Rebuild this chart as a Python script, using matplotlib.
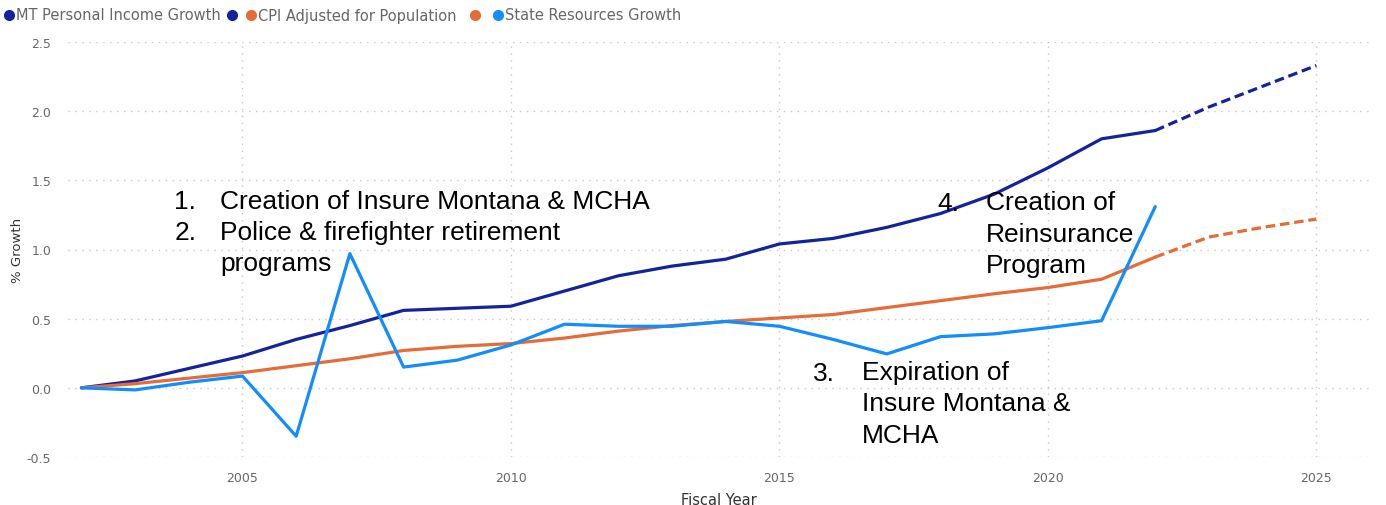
import matplotlib.pyplot as plt
from matplotlib.lines import Line2D

# data
years = list(range(2002, 2023))
proj_years = [2022, 2023, 2024, 2025]

income = [0.0, 0.05, 0.14, 0.23, 0.35, 0.45, 0.56, 0.575, 0.59, 0.70, 0.81,
          0.88, 0.93, 1.04, 1.08, 1.16, 1.26, 1.40, 1.59, 1.80, 1.86]
income_proj = [1.86, 2.03, 2.18, 2.33]

cpi = [0.0, 0.03, 0.07, 0.11, 0.16, 0.21, 0.27, 0.30, 0.32, 0.36, 0.41,
       0.45, 0.48, 0.505, 0.53, 0.58, 0.63, 0.68, 0.725, 0.785, 0.945]
cpi_proj = [0.945, 1.09, 1.16, 1.22]

state = [0.0, -0.015, 0.04, 0.085, -0.35, 0.97, 0.15, 0.20, 0.31, 0.46, 0.445,
         0.445, 0.48, 0.445, 0.35, 0.245, 0.37, 0.39, 0.435, 0.485, 1.31]

legend_labels = ['MT Personal Income Growth', 'CPI Adjusted for Population', 'State Resources Growth']

C_DARK = '#12239E'
C_ORANGE = '#E66C37'
C_LIGHT = '#118DFF'
GRAY = '#666666'

W, H = 1386, 506
fig = plt.figure(figsize=(W / 100, H / 100), dpi=100)
ax = fig.add_axes([68 / W, 1 - 458 / H, (1370 - 68) / W, (458 - 43) / H])

ax.plot(years, income, color=C_DARK, lw=2.3, solid_capstyle='round')
ax.plot(proj_years, income_proj, color=C_DARK, lw=2.3, ls=(0, (3, 1.5)))
ax.plot(years, cpi, color=C_ORANGE, lw=2.3, solid_capstyle='round')
ax.plot(proj_years, cpi_proj, color=C_ORANGE, lw=2.3, ls=(0, (3, 1.5)))
ax.plot(years, state, color=C_LIGHT, lw=2.3, solid_capstyle='round')

ax.set_xlim(2001.75, 2026.0)
ax.set_ylim(-0.5, 2.5)
ax.set_xticks([2005, 2010, 2015, 2020, 2025])
ax.set_yticks([-0.5, 0.0, 0.5, 1.0, 1.5, 2.0, 2.5])
ax.set_yticklabels(['-0.5', '0.0', '0.5', '1.0', '1.5', '2.0', '2.5'])
ax.grid(True, color='#c8c8c8', ls=(0, (1, 4)), lw=1)
ax.set_axisbelow(True)
for s in ax.spines.values():
	s.set_visible(False)
ax.tick_params(axis='x', length=0, labelsize=9, labelcolor=GRAY, pad=10)
ax.tick_params(axis='y', length=0, labelsize=9, labelcolor=GRAY, pad=12)
ax.set_xlabel('Fiscal Year', fontsize=10.5, color='#333333', labelpad=6)
ax.set_ylabel('% Growth', fontsize=9.5, color='#333333', labelpad=2)

# annotations
afont = dict(family='Liberation Sans', fontsize=19, color='black', va='center', linespacing=1.38)
ax.text(2003.73, 1.35, '1.', **afont)
ax.text(2004.58, 1.35, 'Creation of Insure Montana & MCHA', **afont)
ax.text(2003.73, 1.125, '2.', **afont)
ax.text(2004.58, 1.015, 'Police & firefighter retirement\nprograms', **afont)
ax.text(2017.95, 1.335, '4.', **afont)
ax.text(2018.84, 1.115, 'Creation of\nReinsurance\nProgram', **afont)
ax.text(2015.62, 0.108, '3.', **afont)
ax.text(2016.53, -0.112, 'Expiration of\nInsure Montana &\nMCHA', **afont)

# legend drawn manually to match the layout
ly = 1 - 16 / H
def dot(xp, c):
	fig.add_artist(Line2D([xp / W], [ly], marker='o', ms=7, color=c, transform=fig.transFigure))
def lab(xp, t):
	fig.text(xp / W, ly, t, fontsize=10.5, color=GRAY, va='center', ha='left')

dot(9, C_DARK)
lab(16, legend_labels[0])
dot(232, C_DARK)
dot(251, C_ORANGE)
lab(258, legend_labels[1])
dot(475, C_ORANGE)
dot(498, C_LIGHT)
lab(505, legend_labels[2])

fig.savefig('out.png', dpi=100)
